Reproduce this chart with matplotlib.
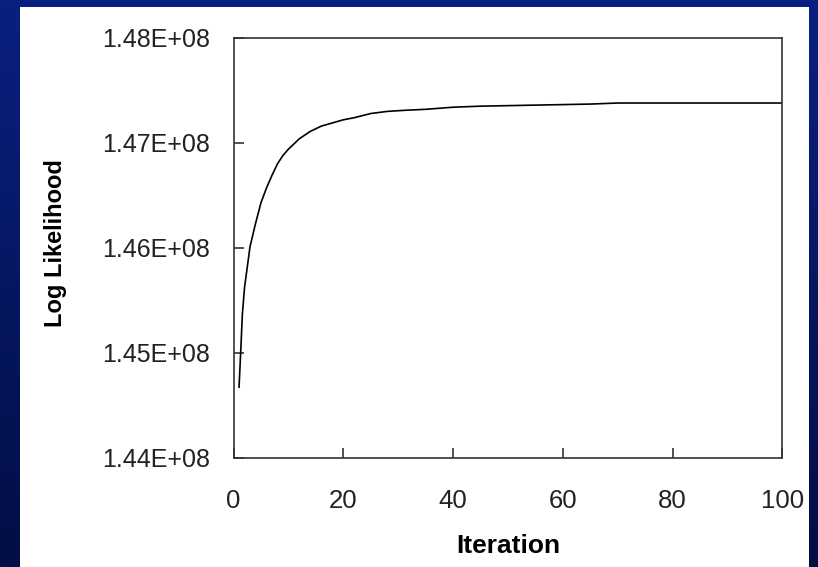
import numpy as np
import matplotlib
matplotlib.use("Agg")
import matplotlib.pyplot as plt
from matplotlib.ticker import FuncFormatter
from matplotlib.patches import Rectangle

# values
iteration = [1, 1.3, 1.6, 2, 3, 4, 5, 6, 7, 8, 9, 10, 12, 14, 16, 18, 20,
             22, 25, 28, 31, 35, 40, 45, 55, 65, 70, 80, 90, 100]
log_lik = [1.4467e8, 1.4500e8, 1.4536e8, 1.4562e8, 1.4601e8, 1.4623e8,
           1.4643e8, 1.4657e8, 1.4669e8, 1.4680e8, 1.4688e8, 1.4694e8,
           1.4704e8, 1.4711e8, 1.4716e8, 1.4719e8, 1.4722e8, 1.4724e8,
           1.4728e8, 1.4730e8, 1.4731e8, 1.4732e8, 1.4734e8, 1.4735e8,
           1.4736e8, 1.4737e8, 1.4738e8, 1.4738e8, 1.4738e8, 1.4738e8]
x_ticks = [0, 20, 40, 60, 80, 100]
y_ticks = [1.44e8, 1.45e8, 1.46e8, 1.47e8, 1.48e8]

plt.rcParams['font.family'] = ['Liberation Sans', 'DejaVu Sans']

fig = plt.figure(figsize=(8.18, 5.67), dpi=100)

# slide background: blue gradient with a white panel
bg = fig.add_axes([0, 0, 1, 1])
grad = np.linspace(0, 1, 256).reshape(-1, 1)
top = np.array([10, 32, 128]) / 255
bot = np.array([2, 14, 68]) / 255
img = top[None, None, :] * (1 - grad[:, :, None]) + bot[None, None, :] * grad[:, :, None]
bg.imshow(img, aspect='auto', extent=[0, 1, 0, 1], origin='upper')
bg.add_patch(Rectangle((20 / 818, 0), (809 - 20) / 818, (567 - 7) / 567,
                       facecolor='white', edgecolor='none'))
bg.set_xlim(0, 1)
bg.set_ylim(0, 1)
bg.axis('off')

ax = fig.add_axes([0.2855, 0.1931, 0.6711, 0.7399])
ax.plot(iteration, log_lik, color='black', linewidth=1.2)

ax.set_xlim(0, 100)
ax.set_ylim(1.44e8, 1.48e8)
ax.set_xticks(x_ticks)
ax.set_yticks(y_ticks)
ax.yaxis.set_major_formatter(FuncFormatter(lambda v, p: '{:.2E}'.format(v)))

ax.tick_params(direction='in', length=7, width=1.1, colors='#222222',
               labelsize=18)
ax.tick_params(axis='y', pad=17)
ax.tick_params(axis='x', pad=23, labelsize=18.5)
for s in ax.spines.values():
    s.set_color('#333333')
    s.set_linewidth(1.2)

ax.set_xlabel('Iteration', fontsize=19, fontweight='bold')
ax.set_ylabel('Log Likelihood', fontsize=17, fontweight='bold')
ax.xaxis.set_label_coords(0.5, -0.182)
ax.yaxis.set_label_coords(-0.303, 0.51)

fig.savefig('out.png', dpi=100)
